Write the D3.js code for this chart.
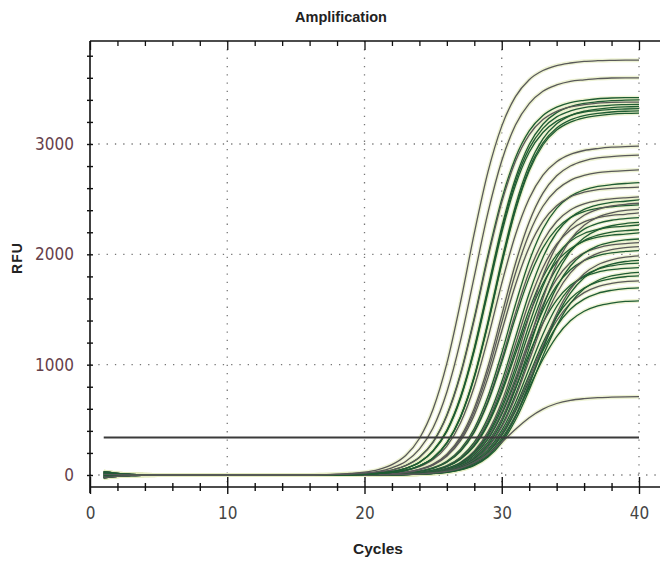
<!DOCTYPE html>
<html>
<head>
<meta charset="utf-8">
<style>
  body { margin: 0; background: #fff; }
  text { font-family: "Liberation Sans", Arial, sans-serif; }
</style>
</head>
<body>
<svg width="660" height="562"></svg>
<script src="https://d3js.org/d3.v7.min.js"></script>
<script>
  var cycles = [1,2,3,4,5,6,7,8,9,10,11,12,13,14,15,16,17,18,19,20,
                21,22,23,24,25,26,27,28,29,30,31,32,33,34,35,36,37,38,39,40];
  var xTicks = [0, 10, 20, 30, 40];
  var yTicks = [0, 1000, 2000, 3000];
  var threshold = 340;

  // RFU per cycle (1..40)
  var earlyCurves = [
    [-26,-12,-5,-2,0,0,0,0,0,0,0,0,0,0,0,0,3,7,15,26,49,94,177,331,598,1011,1568,2192,2749,3162,3429,3583,3666,3711,3734,3749,3755,3758,3760,3760],
    [6,3,1,0,0,0,0,0,0,0,0,0,0,0,0,0,2,5,9,18,32,65,122,234,428,752,1220,1800,2380,2848,3172,3366,3478,3535,3568,3582,3593,3598,3600,3600]
  ];
  var bandCurves = [
    [-18,-8,-3,-1,0,0,0,0,0,0,0,0,0,0,0,0,0,3,7,14,24,44,86,161,301,544,920,1426,1994,2500,2876,3119,3259,3335,3376,3396,3410,3417,3420,3420],
    [14,7,3,1,0,0,0,0,0,0,0,0,0,0,0,0,0,0,4,9,17,31,61,116,221,405,711,1153,1700,2247,2689,2995,3179,3284,3339,3369,3383,3393,3397,3400],
    [-10,-4,-1,0,0,0,0,0,0,0,0,0,0,0,0,0,0,3,7,14,24,44,85,159,297,537,909,1409,1971,2471,2843,3083,3221,3296,3336,3356,3370,3377,3380,3380],
    [22,10,4,1,0,0,0,0,0,0,0,0,0,0,0,0,0,0,4,8,17,30,60,114,218,400,702,1139,1680,2221,2658,2960,3142,3246,3300,3330,3343,3353,3357,3360],
    [-4,-1,0,0,0,0,0,0,0,0,0,0,0,0,0,0,0,0,0,7,13,23,43,84,157,294,531,898,1393,1947,2442,2809,3046,3183,3257,3297,3317,3330,3337,3340],
    [30,14,6,2,0,0,0,0,0,0,0,0,0,0,0,0,0,0,4,8,17,30,60,113,216,395,694,1125,1660,2195,2626,2925,3104,3207,3260,3290,3303,3313,3317,3320],
    [-26,-12,-5,-2,0,0,0,0,0,0,0,0,0,0,0,0,0,0,0,7,13,23,43,83,155,290,525,888,1376,1924,2412,2775,3010,3145,3218,3257,3277,3290,3297,3300],
    [6,3,1,0,0,0,0,0,0,0,0,0,0,0,0,0,0,0,0,7,13,23,43,82,154,289,522,882,1368,1912,2398,2758,2991,3126,3198,3237,3257,3270,3277,3280]
  ];
  var midCurves = [
    [-18,-8,-3,-1,0,0,0,0,0,0,0,0,0,0,0,0,0,0,0,6,12,21,39,75,140,262,474,802,1243,1737,2178,2506,2718,2840,2906,2941,2959,2971,2977,2980],
    [14,7,3,1,0,0,0,0,0,0,0,0,0,0,0,0,0,0,0,4,7,15,26,52,99,189,345,606,983,1450,1917,2294,2555,2712,2801,2848,2874,2886,2894,2900],
    [-10,-4,-1,0,0,0,0,0,0,0,0,0,0,0,0,0,0,0,0,4,7,14,25,50,94,180,329,578,937,1383,1828,2187,2436,2585,2671,2715,2740,2751,2759,2765],
    [22,10,4,1,0,0,0,0,0,0,0,0,0,0,0,0,0,0,0,3,7,13,23,47,89,170,311,545,885,1305,1725,2065,2299,2440,2521,2563,2587,2597,2605,2610]
  ];
  var lateCurves = [
    [-4,-1,0,0,0,0,0,0,0,0,0,0,0,0,0,0,0,0,0,0,5,11,19,34,66,125,233,421,713,1105,1545,1937,2229,2417,2525,2584,2616,2631,2642,2650],
    [30,14,6,2,0,0,0,0,0,0,0,0,0,0,0,0,0,0,0,0,5,10,18,33,63,118,222,401,678,1051,1469,1842,2119,2298,2402,2457,2487,2502,2512,2520],
    [-26,-12,-5,-2,0,0,0,0,0,0,0,0,0,0,0,0,0,0,0,0,5,10,17,32,61,115,215,389,659,1021,1427,1789,2059,2233,2333,2387,2416,2431,2441,2448],
    [6,3,1,0,0,0,0,0,0,0,0,0,0,0,0,0,0,0,0,0,3,6,12,22,45,85,162,297,521,845,1247,1648,1972,2196,2331,2408,2448,2471,2481,2493],
    [-18,-8,-3,-1,0,0,0,0,0,0,0,0,0,0,0,0,0,0,0,0,3,6,12,21,43,81,154,283,496,805,1188,1570,1879,2092,2221,2294,2332,2354,2363,2375],
    [14,7,3,1,0,0,0,0,0,0,0,0,0,0,0,0,0,0,0,0,3,6,11,20,41,77,147,270,474,768,1133,1498,1792,1996,2119,2189,2225,2246,2255,2266],
    [-10,-4,-1,0,0,0,0,0,0,0,0,0,0,0,0,0,0,0,0,0,3,5,11,20,39,75,143,261,459,744,1097,1450,1735,1933,2051,2119,2155,2174,2183,2194],
    [22,10,4,1,0,0,0,0,0,0,0,0,0,0,0,0,0,0,0,0,0,5,10,17,32,62,116,217,393,664,1030,1440,1806,2077,2253,2354,2408,2438,2453,2463],
    [-4,-1,0,0,0,0,0,0,0,0,0,0,0,0,0,0,0,0,0,0,0,5,9,16,30,58,110,206,372,629,975,1364,1710,1967,2133,2229,2281,2309,2323,2332],
    [30,14,6,2,0,0,0,0,0,0,0,0,0,0,0,0,0,0,0,0,0,4,9,16,29,56,105,196,355,600,930,1300,1630,1875,2034,2125,2174,2201,2214,2223],
    [-26,-12,-5,-2,0,0,0,0,0,0,0,0,0,0,0,0,0,0,0,0,0,4,8,15,27,53,99,186,336,568,881,1231,1544,1776,1926,2013,2059,2085,2097,2106],
    [6,3,1,0,0,0,0,0,0,0,0,0,0,0,0,0,0,0,0,0,0,4,8,14,27,51,96,180,324,549,851,1189,1491,1716,1860,1944,1989,2013,2026,2034],
    [-18,-8,-3,-1,0,0,0,0,0,0,0,0,0,0,0,0,0,0,0,0,0,4,8,13,25,47,89,166,300,507,786,1100,1379,1586,1720,1797,1839,1861,1873,1880],
    [14,7,3,1,0,0,0,0,0,0,0,0,0,0,0,0,0,0,0,0,0,3,6,12,22,44,82,157,288,506,820,1210,1600,1914,2132,2263,2338,2376,2398,2408],
    [-10,-4,-1,0,0,0,0,0,0,0,0,0,0,0,0,0,0,0,0,0,0,3,6,12,21,41,78,150,274,481,780,1150,1520,1819,2026,2151,2222,2259,2279,2289],
    [22,10,4,1,0,0,0,0,0,0,0,0,0,0,0,0,0,0,0,0,0,3,5,11,19,39,73,140,256,449,729,1075,1421,1701,1894,2010,2077,2111,2131,2139],
    [-4,-1,0,0,0,0,0,0,0,0,0,0,0,0,0,0,0,0,0,0,0,3,5,10,19,37,71,135,248,435,705,1040,1375,1645,1832,1945,2009,2043,2061,2070],
    [30,14,6,2,0,0,0,0,0,0,0,0,0,0,0,0,0,0,0,0,0,3,5,10,17,35,66,126,230,404,655,966,1276,1527,1701,1805,1865,1896,1914,1921],
    [-26,-12,-5,-2,0,0,0,0,0,0,0,0,0,0,0,0,0,0,0,0,0,2,5,9,16,33,62,118,216,379,615,907,1198,1434,1597,1695,1751,1780,1797,1804],
    [6,3,1,0,0,0,0,0,0,0,0,0,0,0,0,0,0,0,0,0,0,2,4,9,16,32,60,115,210,370,599,884,1169,1398,1558,1653,1708,1736,1752,1759],
    [-18,-8,-3,-1,0,0,0,0,0,0,0,0,0,0,0,0,0,0,0,0,0,2,4,9,15,31,58,111,203,356,578,853,1127,1349,1502,1594,1647,1674,1690,1696],
    [14,7,3,1,0,0,0,0,0,0,0,0,0,0,0,0,0,0,0,0,0,2,4,8,14,29,54,103,189,332,538,794,1049,1255,1398,1484,1533,1558,1573,1579],
    [-10,-4,-1,0,0,0,0,0,0,0,0,0,0,0,0,0,0,0,0,0,0,0,4,8,14,26,50,94,176,318,538,834,1166,1462,1682,1824,1906,1950,1974,1986],
    [22,10,4,1,0,0,0,0,0,0,0,0,0,0,0,0,0,0,0,0,0,0,4,8,14,25,49,92,172,312,527,817,1143,1433,1648,1788,1868,1911,1935,1946],
    [-4,-1,0,0,0,0,0,0,0,0,0,0,0,0,0,0,0,0,0,0,0,0,4,7,13,24,46,87,163,294,498,771,1079,1352,1556,1687,1763,1804,1826,1837]
  ];
  var lowCurve = [30,14,6,2,0,0,0,0,0,0,0,0,0,0,0,0,0,0,0,0,1,3,5,9,18,33,62,113,191,296,414,519,597,648,677,692,701,705,708,710];

  var svg = d3.select("svg"),
      plotL = 90, plotR = 660, plotT = 41, plotB = 487;

  var x = d3.scaleLinear().domain([0, 40]).range([90, 639]);
  var y = d3.scaleLinear().domain([0, 3000]).range([475, 144]);

  var green = "#1f5c33", grey = "#595959";

  // title + axis titles
  svg.append("text").attr("x", 341).attr("y", 22)
      .attr("text-anchor", "middle").attr("font-size", 14.5).attr("font-weight", "bold")
      .attr("fill", "#222").text("Amplification");
  svg.append("text").attr("x", 378).attr("y", 554)
      .attr("text-anchor", "middle").attr("font-size", 15.5).attr("font-weight", "bold")
      .attr("fill", "#222").text("Cycles");
  svg.append("text").attr("transform", "translate(22,258) rotate(-90)")
      .attr("text-anchor", "middle").attr("font-size", 14).attr("font-weight", "bold")
      .attr("letter-spacing", 1).attr("fill", "#222").text("RFU");

  // dotted grid
  var grid = svg.append("g").attr("stroke", "#777").attr("stroke-width", 1.3)
      .attr("stroke-dasharray", "1.3,7");
  grid.selectAll(".gx").data(xTicks.slice(1)).enter().append("line")
      .attr("x1", x).attr("x2", x).attr("y1", plotT).attr("y2", plotB);
  grid.selectAll(".gy").data(yTicks).enter().append("line")
      .attr("x1", plotL).attr("x2", plotR).attr("y1", y).attr("y2", y);

  // curves
  var line = d3.line()
      .x(function(d, i) { return x(cycles[i]); })
      .y(function(d) { return y(d); })
      .curve(d3.curveMonotoneX);

  var all = [];
  lateCurves.forEach(function(c, i) { all.push({v: c, col: (i % 3 === 1) ? grey : green}); });
  all.push({v: lowCurve, col: grey});
  midCurves.forEach(function(c) { all.push({v: c, col: grey}); });
  bandCurves.forEach(function(c, i) { all.push({v: c, col: i === 2 ? grey : green}); });
  earlyCurves.forEach(function(c) { all.push({v: c, col: grey}); });

  svg.append("g").selectAll("path").data(all).enter().append("path")
      .attr("d", function(d) { return line(d.v); })
      .attr("fill", "none").attr("stroke", "#e6ecc0").attr("stroke-opacity", 0.7)
      .attr("stroke-width", 4);
  svg.append("g").selectAll("path").data(all).enter().append("path")
      .attr("d", function(d) { return line(d.v); })
      .attr("fill", "none").attr("stroke", function(d) { return d.col; })
      .attr("stroke-width", 1.3);

  // threshold
  svg.append("line")
      .attr("x1", x(cycles[0])).attr("x2", x(cycles[cycles.length - 1]))
      .attr("y1", y(threshold)).attr("y2", y(threshold))
      .attr("stroke", "#3b3b3b").attr("stroke-width", 2.2);

  // frame
  var frame = svg.append("g").attr("stroke", "#111").attr("stroke-width", 1.6);
  frame.append("line").attr("x1", plotL).attr("x2", plotL).attr("y1", plotT).attr("y2", plotB + 6);
  frame.append("line").attr("x1", plotL).attr("x2", plotR).attr("y1", plotT).attr("y2", plotT);
  frame.append("line").attr("x1", plotL).attr("x2", plotR).attr("y1", plotB).attr("y2", plotB);

  var labelFont = '"Liberation Sans Narrow", "DejaVu Sans Condensed", sans-serif';

  // y axis
  var yMinor = d3.range(0, 3801, 200);
  var ya = svg.append("g").attr("transform", "translate(" + plotL + ",0)")
      .call(d3.axisLeft(y).tickValues(yMinor).tickSize(3).tickFormat(""));
  ya.select(".domain").remove();
  ya.selectAll(".tick line").attr("x2", -3).attr("x1", 3).attr("stroke", "#111").attr("stroke-width", 1.4);
  var yl = svg.append("g").attr("transform", "translate(" + plotL + ",0)")
      .call(d3.axisLeft(y).tickValues(yTicks).tickSize(0).tickPadding(16).tickFormat(d3.format("d")));
  yl.select(".domain").remove();
  yl.selectAll("text").attr("font-size", 17).attr("fill", "#66404a").style("font-family", labelFont);

  // x axis bottom
  var xMinor = d3.range(0, 41, 2);
  var xa = svg.append("g").attr("transform", "translate(0," + plotB + ")")
      .call(d3.axisBottom(x).tickValues(xMinor).tickSize(4).tickFormat(""));
  xa.select(".domain").remove();
  xa.selectAll(".tick line")
      .attr("y1", function(d) { return d % 10 === 0 ? -10 : -4; })
      .attr("y2", function(d) { return d % 10 === 0 ? 7 : 4; })
      .attr("stroke", "#111").attr("stroke-width", 1.4);
  var xl = svg.append("g").attr("transform", "translate(0," + plotB + ")")
      .call(d3.axisBottom(x).tickValues(xTicks).tickSize(0).tickPadding(20));
  xl.select(".domain").remove();
  xl.selectAll("text").attr("font-size", 17).attr("fill", "#444").style("font-family", labelFont);

  // top ticks
  var xt = svg.append("g").attr("transform", "translate(0," + plotT + ")")
      .call(d3.axisBottom(x).tickValues(xMinor).tickSize(5).tickFormat(""));
  xt.select(".domain").remove();
  xt.selectAll(".tick line")
      .attr("y2", function(d) { return d % 10 === 0 ? 9 : 5; })
      .attr("stroke", "#111").attr("stroke-width", 1.3);
</script>
</body>
</html>
